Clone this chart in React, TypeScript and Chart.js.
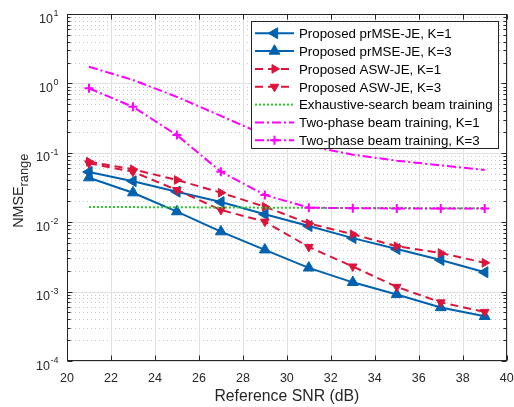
import React, { useEffect, useRef } from 'react';
import { Chart, registerables } from 'chart.js';

Chart.register(...registerables);

// ---------------- data ----------------
const snr = [21, 23, 25, 27, 29, 31, 33, 35, 37, 39];
const prmseK1 = [0.053, 0.039, 0.0275, 0.0195, 0.013, 0.0088, 0.0059, 0.0041, 0.00285, 0.0019];
const prmseK3 = [0.0438, 0.0266, 0.0142, 0.0073, 0.004, 0.0022, 0.00136, 0.00091, 0.00059, 0.00044];
const aswK1 = [0.0745, 0.0578, 0.0406, 0.0266, 0.0167, 0.0096, 0.0067, 0.0045, 0.0036, 0.0026];
const aswK3 = [0.0705, 0.0534, 0.0291, 0.015, 0.0102, 0.0044, 0.0023, 0.00117, 0.0007, 0.00051];
const exhaustive = [0.0166, 0.0165, 0.0164, 0.0163, 0.0162, 0.0161, 0.016, 0.016, 0.0159, 0.0159];
const twoPhaseK1 = [1.74, 1.12, 0.64, 0.34, 0.18, 0.125, 0.094, 0.077, 0.066, 0.0565];
const twoPhaseK3 = [0.85, 0.46, 0.18, 0.0535, 0.0247, 0.0162, 0.0159, 0.0158, 0.0158, 0.0158];

const xTicks = [20, 22, 24, 26, 28, 30, 32, 34, 36, 38, 40];
const yExponents = [-4, -3, -2, -1, 0, 1];
const xTitle = 'Reference SNR (dB)';
const yTitleMain = 'NMSE';
const yTitleSub = 'range';

const seriesLabels = [
  'Proposed prMSE-JE, K=1',
  'Proposed prMSE-JE, K=3',
  'Proposed ASW-JE, K=1',
  'Proposed ASW-JE, K=3',
  'Exhaustive-search beam training',
  'Two-phase beam training, K=1',
  'Two-phase beam training, K=3',
];

// ---------------- styles ----------------
const FONT = '"Liberation Sans", Arial, Helvetica, sans-serif';
const BLUE = '#0061ae';
const RED = '#dc143c';
const GREEN = '#2ecc2e';
const MAGENTA = '#ff00ff';
const AXIS = '#262626';

type Style = {
  color: string;
  dash: number[];
  marker: 'none' | 'left' | 'up' | 'right' | 'down' | 'cross';
  r: number;
};

const styles: Style[] = [
  { color: BLUE, dash: [], marker: 'left', r: 6.3 },
  { color: BLUE, dash: [], marker: 'up', r: 6.3 },
  { color: RED, dash: [8, 5], marker: 'right', r: 5 },
  { color: RED, dash: [8, 5], marker: 'down', r: 5 },
  { color: GREEN, dash: [2, 2], marker: 'none', r: 0 },
  { color: MAGENTA, dash: [9, 3, 2, 3], marker: 'none', r: 0 },
  { color: MAGENTA, dash: [9, 3, 2, 3], marker: 'cross', r: 4.5 },
];

const seriesValues = [prmseK1, prmseK3, aswK1, aswK3, exhaustive, twoPhaseK1, twoPhaseK3];

const rotationOf: Record<string, number> = { up: 0, right: 90, down: 180, left: 270 };

function drawMarker(ctx: CanvasRenderingContext2D, s: Style, x: number, y: number) {
  if (s.marker === 'none') return;
  ctx.save();
  ctx.setLineDash([]);
  ctx.fillStyle = s.color;
  ctx.strokeStyle = s.color;
  ctx.lineWidth = 1;
  if (s.marker === 'cross') {
    ctx.lineWidth = 2;
    ctx.beginPath();
    ctx.moveTo(x - s.r, y);
    ctx.lineTo(x + s.r, y);
    ctx.moveTo(x, y - s.r);
    ctx.lineTo(x, y + s.r);
    ctx.stroke();
  } else {
    let a = (rotationOf[s.marker] * Math.PI) / 180;
    ctx.beginPath();
    for (let k = 0; k < 3; k++) {
      const px = x + Math.sin(a) * s.r;
      const py = y - Math.cos(a) * s.r;
      if (k === 0) ctx.moveTo(px, py);
      else ctx.lineTo(px, py);
      a += (2 * Math.PI) / 3;
    }
    ctx.closePath();
    ctx.fill();
    ctx.stroke();
  }
  ctx.restore();
}

function hline(ctx: CanvasRenderingContext2D, x1: number, x2: number, y: number) {
  ctx.beginPath();
  ctx.moveTo(x1, y);
  ctx.lineTo(x2, y);
  ctx.stroke();
}
function vline(ctx: CanvasRenderingContext2D, x: number, y1: number, y2: number) {
  ctx.beginPath();
  ctx.moveTo(x, y1);
  ctx.lineTo(x, y2);
  ctx.stroke();
}

const matlabAxes = {
  id: 'matlabAxes',
  beforeDatasetsDraw(chart: any) {
    const { ctx, chartArea: a, scales } = chart;
    const xs = scales.x;
    const ys = scales.y;
    ctx.save();
    ctx.lineWidth = 1;
    // minor dotted horizontal grid
    ctx.strokeStyle = '#c8c8c8';
    ctx.setLineDash([1, 3]);
    for (let d = -4; d < 1; d++) {
      for (let m = 2; m <= 9; m++) {
        const py = Math.round(ys.getPixelForValue(m * Math.pow(10, d))) + 0.5;
        hline(ctx, a.left, a.right, py);
      }
    }
    // major grid
    ctx.setLineDash([]);
    ctx.strokeStyle = '#e0e0e0';
    xTicks.forEach((t) => {
      const px = Math.round(xs.getPixelForValue(t)) + 0.5;
      vline(ctx, px, a.top, a.bottom);
    });
    yExponents.forEach((e) => {
      const py = Math.round(ys.getPixelForValue(Math.pow(10, e))) + 0.5;
      hline(ctx, a.left, a.right, py);
    });
    ctx.restore();
  },
  afterDatasetsDraw(chart: any) {
    const { ctx, chartArea: a, scales } = chart;
    const xs = scales.x;
    const ys = scales.y;
    ctx.save();
    ctx.setLineDash([]);
    ctx.strokeStyle = AXIS;
    ctx.lineWidth = 1;
    const L = Math.round(a.left) + 0.5;
    const R = Math.round(a.right) - 0.5;
    const T = Math.round(a.top) + 0.5;
    const B = Math.round(a.bottom) - 0.5;
    ctx.strokeRect(L, T, R - L, B - T);
    // x ticks (bottom & top)
    xTicks.forEach((t) => {
      const px = Math.round(xs.getPixelForValue(t)) + 0.5;
      vline(ctx, px, B, B - 5);
      vline(ctx, px, T, T + 5);
    });
    // y ticks major + minor (left & right)
    yExponents.forEach((e) => {
      const py = Math.round(ys.getPixelForValue(Math.pow(10, e))) + 0.5;
      hline(ctx, L, L + 5, py);
      hline(ctx, R, R - 5, py);
    });
    for (let d = -4; d < 1; d++) {
      for (let m = 2; m <= 9; m++) {
        const py = Math.round(ys.getPixelForValue(m * Math.pow(10, d))) + 0.5;
        hline(ctx, L, L + 3, py);
        hline(ctx, R, R - 3, py);
      }
    }
    // x tick labels
    ctx.fillStyle = AXIS;
    ctx.font = `12.5px ${FONT}`;
    ctx.textAlign = 'center';
    ctx.textBaseline = 'alphabetic';
    xTicks.forEach((t) => {
      ctx.fillText(String(t), xs.getPixelForValue(t), a.bottom + 21);
    });
    // y tick labels: 10^e
    yExponents.forEach((e) => {
      const py = ys.getPixelForValue(Math.pow(10, e));
      const exp = String(e);
      ctx.font = `9px ${FONT}`;
      const we = ctx.measureText(exp).width;
      ctx.font = `12.5px ${FONT}`;
      const wb = ctx.measureText('10').width;
      const right = a.left - 8.5;
      ctx.textAlign = 'left';
      ctx.fillText('10', right - we - wb - 0.5, py + 8.5);
      ctx.font = `9px ${FONT}`;
      ctx.fillText(exp, right - we, py + 2);
    });
    // x title
    ctx.font = `15.8px ${FONT}`;
    ctx.textAlign = 'center';
    ctx.fillText(xTitle, (a.left + a.right) / 2, 401);
    // y title (rotated) with subscript
    ctx.save();
    ctx.translate(22.7, 190.7);
    ctx.rotate(-Math.PI / 2);
    ctx.font = `14.3px ${FONT}`;
    const wm = ctx.measureText(yTitleMain).width;
    ctx.font = `12.8px ${FONT}`;
    const ws = ctx.measureText(yTitleSub).width;
    const start = -(wm + ws) / 2;
    ctx.textAlign = 'left';
    ctx.font = `14.3px ${FONT}`;
    ctx.fillText(yTitleMain, start, 0);
    ctx.font = `12.8px ${FONT}`;
    ctx.fillText(yTitleSub, start + wm, 5.3);
    ctx.restore();

    // legend
    const lx1 = 251.5;
    const lx2 = 498.5;
    const ly1 = 21.5;
    const ly2 = 148.5;
    ctx.fillStyle = '#ffffff';
    ctx.fillRect(lx1, ly1, lx2 - lx1, ly2 - ly1);
    ctx.strokeStyle = AXIS;
    ctx.lineWidth = 1;
    ctx.strokeRect(lx1, ly1, lx2 - lx1, ly2 - ly1);
    const rowStep = 17.85;
    seriesLabels.forEach((label, i) => {
      const s = styles[i];
      const cy = 33.2 + i * rowStep;
      ctx.save();
      ctx.strokeStyle = s.color;
      ctx.lineWidth = 2;
      ctx.setLineDash(s.dash);
      ctx.beginPath();
      ctx.moveTo(255, cy);
      ctx.lineTo(294, cy);
      ctx.stroke();
      ctx.restore();
      drawMarker(ctx, s, 274.5, cy);
      ctx.fillStyle = '#000000';
      ctx.font = `13.3px ${FONT}`;
      ctx.textAlign = 'left';
      ctx.fillText(label, 299, cy + 4.8);
    });
    ctx.restore();
  },
};

export default function App() {
  const canvasRef = useRef<HTMLCanvasElement | null>(null);

  useEffect(() => {
    document.body.style.margin = '0';
    const canvas = canvasRef.current;
    if (!canvas) return;
    const datasets = seriesValues.map((vals, i) => {
      const s = styles[i];
      return {
        label: seriesLabels[i],
        data: snr.map((x, k) => ({ x, y: vals[k] })),
        borderColor: s.color,
        backgroundColor: s.color,
        borderWidth: 2,
        borderDash: s.dash,
        tension: 0,
        fill: false,
        order: seriesLabels.length - i,
        pointStyle: s.marker === 'none' ? false : s.marker === 'cross' ? 'cross' : 'triangle',
        rotation: s.marker === 'none' || s.marker === 'cross' ? 0 : rotationOf[s.marker],
        pointRadius: s.r,
        pointHoverRadius: s.r,
        pointBorderWidth: s.marker === 'cross' ? 2 : 1,
        pointBackgroundColor: s.color,
        pointBorderColor: s.color,
      };
    });
    const chart = new Chart(canvas, {
      type: 'line',
      data: { datasets } as any,
      options: {
        responsive: false,
        animation: false,
        devicePixelRatio: 1,
        layout: { padding: { left: 67, right: 7, top: 14, bottom: 46 } },
        scales: {
          x: { type: 'linear', min: 20, max: 40, display: false },
          y: { type: 'logarithmic', min: 1e-4, max: 10, display: false },
        },
        plugins: {
          legend: { display: false },
          tooltip: { enabled: false },
        },
      } as any,
      plugins: [matlabAxes as any],
    });
    return () => chart.destroy();
  }, []);

  return (
    <div style={{ position: 'fixed', left: 0, top: 0, width: 514, height: 407, background: '#fff' }}>
      <canvas ref={canvasRef} width={514} height={407} style={{ display: 'block' }} />
    </div>
  );
}
